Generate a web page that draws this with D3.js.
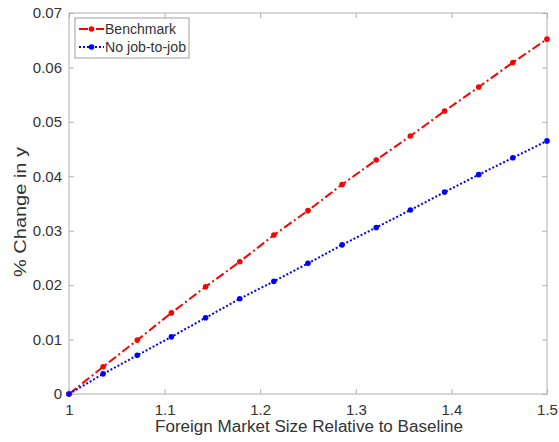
<!DOCTYPE html>
<html><head><meta charset="utf-8">
<script src="https://cdn.jsdelivr.net/npm/d3@7"></script>
<style>body{margin:0;background:#fff}svg{display:block}</style>
</head><body>
<svg id="c" width="559" height="442"></svg>
<script>
const xValues = [1, 1.0357, 1.0714, 1.1071, 1.1429, 1.1786, 1.2143, 1.25, 1.2857, 1.3214, 1.3571, 1.3929, 1.4286, 1.4643, 1.5];
const benchmark = [0, 0.0050, 0.0099, 0.0149, 0.0197, 0.0243, 0.0292, 0.0337, 0.0385, 0.0430, 0.0474, 0.0520, 0.0564, 0.0609, 0.0652];
const noJobToJob = [0, 0.0037, 0.0071, 0.0105, 0.0140, 0.0175, 0.0207, 0.0240, 0.0274, 0.0306, 0.0338, 0.0371, 0.0403, 0.0434, 0.0465];
const xTicks = [1, 1.1, 1.2, 1.3, 1.4, 1.5];
const yTicks = [0, 0.01, 0.02, 0.03, 0.04, 0.05, 0.06, 0.07];
const seriesNames = ["Benchmark", "No job-to-job"];

const svg = d3.select("#c");
const L = 69, R = 547, T = 13, B = 394;
const x = d3.scaleLinear().domain([1, 1.5]).range([L, R]);
const y = d3.scaleLinear().domain([0, 0.07]).range([B, T]);
const font = "Liberation Sans, Arial, Helvetica, sans-serif";
const axisCol = "#b0b0b0", textCol = "#333";

svg.append("rect").attr("x", L).attr("y", T).attr("width", R - L).attr("height", B - T)
  .attr("fill", "none").attr("stroke", axisCol).attr("stroke-width", 1);

const xAx = svg.append("g").attr("transform", `translate(0,${B})`)
  .call(d3.axisBottom(x).tickValues(xTicks).tickFormat(d3.format("")).tickSizeInner(-5).tickSizeOuter(0).tickPadding(10));
const xAxT = svg.append("g").attr("transform", `translate(0,${T})`)
  .call(d3.axisTop(x).tickValues(xTicks).tickFormat("").tickSizeInner(-5).tickSizeOuter(0));
const yAx = svg.append("g").attr("transform", `translate(${L},0)`)
  .call(d3.axisLeft(y).tickValues(yTicks).tickFormat(d => d === 0 ? "0" : d3.format(".2f")(d)).tickSizeInner(-5).tickSizeOuter(0).tickPadding(7));
const yAxR = svg.append("g").attr("transform", `translate(${R},0)`)
  .call(d3.axisRight(y).tickValues(yTicks).tickFormat("").tickSizeInner(-5).tickSizeOuter(0));
[xAx, xAxT, yAx, yAxR].forEach(g => {
  g.select(".domain").remove();
  g.selectAll("line").attr("stroke", axisCol);
  g.selectAll("text").attr("fill", textCol).style("font-family", font).style("font-size", "15px");
});

const pts = s => xValues.map((v, i) => [v, s[i]]);
const line = d3.line().x(d => x(d[0])).y(d => y(d[1]));
const series = [
  {name: seriesNames[0], data: benchmark, color: "#ff0000", dash: "9,3,2,3", tl: 71},
  {name: seriesNames[1], data: noJobToJob, color: "#0000ff", dash: "2,2", tl: 81}
];
series.forEach(s => {
  svg.append("path").datum(pts(s.data)).attr("d", line).attr("fill", "none")
    .attr("stroke", s.color).attr("stroke-width", 2).attr("stroke-dasharray", s.dash);
  svg.append("g").selectAll("circle").data(pts(s.data)).join("circle")
    .attr("cx", d => x(d[0])).attr("cy", d => y(d[1])).attr("r", 2.8).attr("fill", s.color);
});

const lg = svg.append("g");
lg.append("rect").attr("x", 75).attr("y", 18).attr("width", 114).attr("height", 40)
  .attr("fill", "#fff").attr("stroke", "#a0a0a0").attr("stroke-width", 1);
series.forEach((s, i) => {
  const yy = 29 + i * 18;
  lg.append("line").attr("x1", 79).attr("x2", 104).attr("y1", yy).attr("y2", yy)
    .attr("stroke", s.color).attr("stroke-width", 2).attr("stroke-dasharray", s.dash);
  lg.append("circle").attr("cx", 91.5).attr("cy", yy).attr("r", 2.8).attr("fill", s.color);
  lg.append("text").attr("x", 105).attr("y", yy + 5).text(s.name)
    .attr("textLength", s.tl).attr("lengthAdjust", "spacingAndGlyphs")
    .attr("fill", textCol).style("font-family", font).style("font-size", "14px");
});

svg.append("text").attr("x", 309).attr("y", 432).attr("text-anchor", "middle")
  .text("Foreign Market Size Relative to Baseline").attr("fill", textCol)
  .attr("textLength", 308).attr("lengthAdjust", "spacingAndGlyphs")
  .style("font-family", font).style("font-size", "16px");
svg.append("text").attr("transform", `translate(26,212) rotate(-90)`).attr("text-anchor", "middle")
  .text("% Change in y").attr("fill", textCol)
  .attr("textLength", 130).attr("lengthAdjust", "spacingAndGlyphs")
  .style("font-family", font).style("font-size", "16px");
</script>
</body></html>
